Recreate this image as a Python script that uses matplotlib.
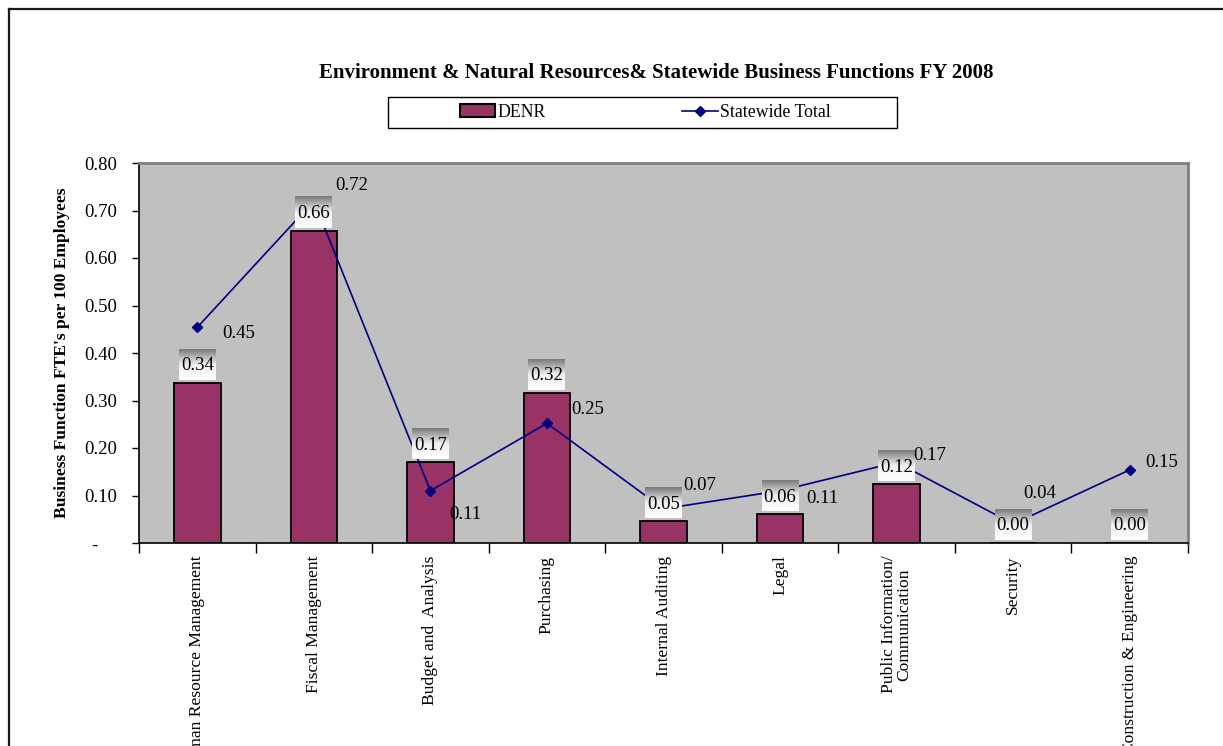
import numpy as np
import matplotlib
matplotlib.use("Agg")
import matplotlib.pyplot as plt
from matplotlib.colors import LinearSegmentedColormap
from matplotlib.patches import Rectangle, Patch
from matplotlib.lines import Line2D

# Business function FTE's per 100 employees, FY 2008
categories = [
    "Human Resource Management",
    "Fiscal Management",
    "Budget and  Analysis",
    "Purchasing",
    "Internal Auditing",
    "Legal",
    "Public Information/\nCommunication",
    "Security",
    "Construction & Engineering",
]
denr = [0.337, 0.657, 0.170, 0.316, 0.046, 0.061, 0.124, 0.0, 0.0]
statewide = [0.454, 0.720, 0.110, 0.252, 0.072, 0.110, 0.170, 0.040, 0.154]
yticks = [0.0, 0.1, 0.2, 0.3, 0.4, 0.5, 0.6, 0.7, 0.8]

# label nudges (pixels) for the statewide values
sw_offsets = [(41, -6), (38, 15), (35, -24), (41, 14), (36, 23),
              (42, -8), (33, 7), (27, 31), (32, 7)]

FONT = "Liberation Serif"
BAR = "#993366"
NAVY = "#000080"
PLOT_BG = "#C0C0C0"

W, H, DPI = 1223, 746, 100
fig = plt.figure(figsize=(W / DPI, H / DPI), dpi=DPI)
fig.patch.set_facecolor("white")

# outer chart frame (runs off the right and bottom edges)
fig.add_artist(Line2D([9 / W, 9 / W], [1 - 9 / H, -0.1], color="#1a1a1a",
                      lw=1.6, transform=fig.transFigure))
fig.add_artist(Line2D([9 / W, 1.1], [1 - 9 / H, 1 - 9 / H], color="#1a1a1a",
                      lw=1.6, transform=fig.transFigure))

left, right, top, bottom = 139, 1188, 163, 543
ax = fig.add_axes([left / W, 1 - bottom / H, (right - left) / W, (bottom - top) / H])
ax.set_facecolor(PLOT_BG)

x = np.arange(len(categories))
ax.bar(x, denr, width=0.4, color=BAR, edgecolor="black", linewidth=1.3, zorder=2)
ax.plot(x, statewide, color=NAVY, lw=1.2, marker="D", markersize=5.5,
        markerfacecolor=NAVY, markeredgecolor=NAVY, zorder=3)

# data units per pixel
px_y = 0.8 / (bottom - top)
px_x = len(categories) / (right - left)

# gradient label boxes on top of the bars
grad = LinearSegmentedColormap.from_list("lbl", ["#ffffff", "#f0f0f0", "#7a7a7a"])
ramp = np.linspace(0, 1, 64).reshape(-1, 1)
for xi, v in zip(x, denr):
    y0 = v + 3 * px_y
    y1 = v + 34 * px_y
    ax.imshow(ramp, cmap=grad, origin="lower", aspect="auto", interpolation="bilinear",
              extent=(xi - 18.5 * px_x, xi + 18.5 * px_x, y0, y1), zorder=4)
    ax.text(xi, v + 17 * px_y, f"{v:.2f}", ha="center", va="center",
            fontsize=13.5, family=FONT, zorder=5)

for xi, v, (dx, dy) in zip(x, statewide, sw_offsets):
    ax.annotate(f"{v:.2f}", (xi, v), xytext=(dx, dy), textcoords="offset pixels",
                ha="center", va="center", fontsize=13.5, family=FONT, zorder=5)

ax.set_xlim(-0.5, len(categories) - 0.5)
ax.set_ylim(0, 0.8)

# y axis
ax.set_yticks(yticks)
ax.set_yticklabels(["-    " if t == 0 else f"{t:.2f}" for t in yticks],
                   fontsize=13.5, family=FONT)
ax.tick_params(axis="y", direction="out", length=5, width=1, pad=11)
ax.set_ylabel("Business Function FTE's per 100 Employees", fontsize=12.6,
              fontweight="bold", family=FONT, labelpad=10)

# x axis: ticks between categories, labels at the centres
ax.set_xticks(np.arange(len(categories) + 1) - 0.5)
ax.set_xticklabels([])
ax.tick_params(axis="x", which="major", direction="out", length=7, width=1)
ax.set_xticks(x, minor=True)
ax.set_xticklabels(categories, minor=True, rotation=90, ha="center", va="top",
                   fontsize=12.6, family=FONT, linespacing=1.0)
ax.tick_params(axis="x", which="minor", length=0, pad=9)

for side in ("left", "bottom"):
    ax.spines[side].set_color("black")
    ax.spines[side].set_linewidth(1.2)
for side in ("top", "right"):
    ax.spines[side].set_color("#808080")
    ax.spines[side].set_linewidth(2)

fig.text(656 / W, 1 - 73 / H,
         "Environment & Natural Resources& Statewide Business Functions FY 2008",
         ha="center", va="center", fontsize=15, fontweight="bold", family=FONT)

# legend with a plain rectangular frame
fig.add_artist(Rectangle((388 / W, 1 - 128 / H), 509 / W, 31 / H, facecolor="white",
                         edgecolor="black", lw=1, transform=fig.transFigure))
handles = [
    Patch(facecolor=BAR, edgecolor="black", linewidth=1.5, label="DENR"),
    Line2D([], [], color=NAVY, lw=1.2, marker="D", markersize=5.5, label="Statewide Total"),
]
fig.legend(handles=handles, loc="center", bbox_to_anchor=(645 / W, 1 - 112.5 / H),
           ncol=2, frameon=False, prop={"family": FONT, "size": 12.8},
           handlelength=2.0, handleheight=0.75, handletextpad=0.1, columnspacing=7.7)

fig.savefig("out.png", dpi=DPI)
